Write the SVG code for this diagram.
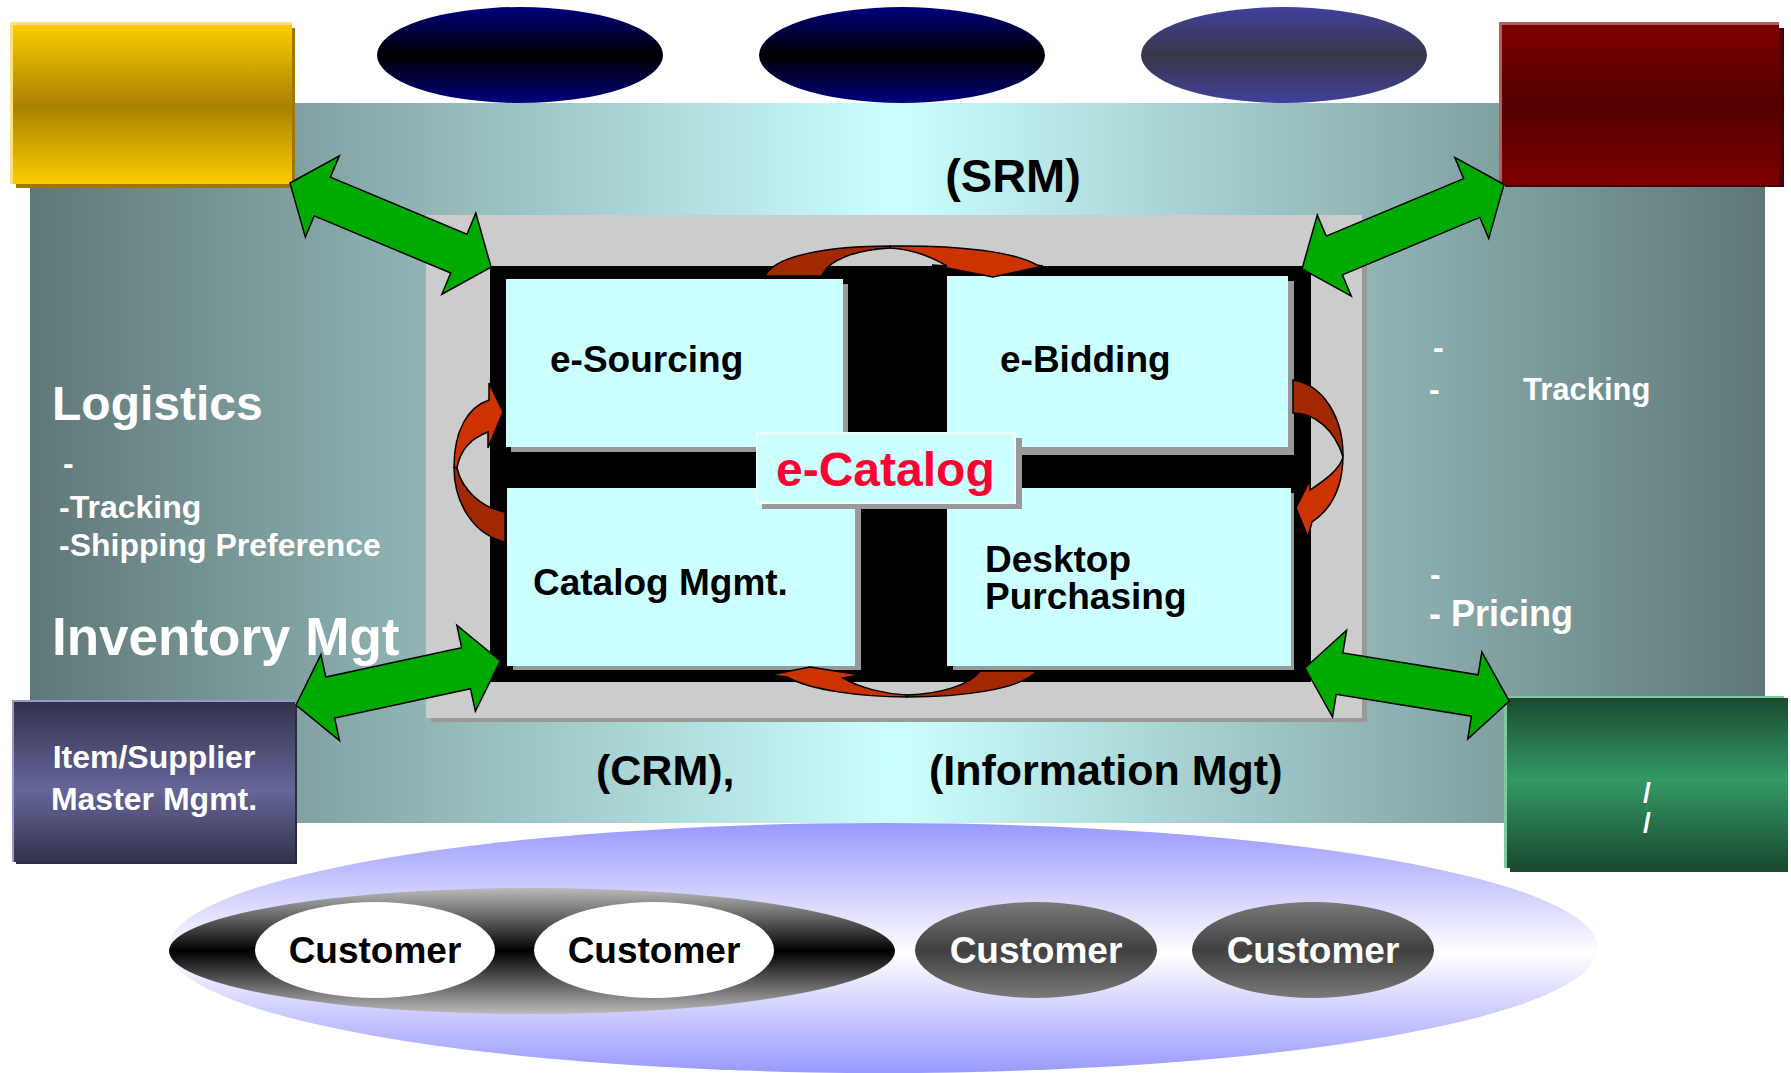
<svg xmlns="http://www.w3.org/2000/svg" width="1791" height="1073" viewBox="0 0 1791 1073">
<defs>
<style>
.t{font-family:"Liberation Sans",Arial,Helvetica,sans-serif;font-weight:bold}
.w{fill:#ffffff}
.k{fill:#000000}
.box{fill:#ccffff}
.sh{fill:#999999}
.garrow{fill:#00aa00;stroke:#000000;stroke-width:1.5;stroke-linejoin:miter}
.rback{fill:#a12800;stroke:#000000;stroke-width:1.5}
.rfront{fill:#cc3300;stroke:#000000;stroke-width:1.5}
</style>
<linearGradient id="frameGrad" gradientUnits="userSpaceOnUse" x1="30" y1="0" x2="1765" y2="0">
<stop offset="0" stop-color="#5f7777"/><stop offset="0.4986" stop-color="#ccffff"/><stop offset="1" stop-color="#5f7777"/>
</linearGradient>
<linearGradient id="yellowGrad" x1="0" y1="0" x2="0" y2="1">
<stop offset="0" stop-color="#fccc00"/><stop offset="0.51" stop-color="#a88200"/><stop offset="1" stop-color="#fccc00"/>
</linearGradient>
<linearGradient id="maroonGrad" x1="0" y1="0" x2="0" y2="1">
<stop offset="0" stop-color="#7e0000"/><stop offset="0.5" stop-color="#540000"/><stop offset="1" stop-color="#7e0000"/>
</linearGradient>
<linearGradient id="navyGrad" x1="0" y1="0" x2="0" y2="1">
<stop offset="0" stop-color="#000080"/><stop offset="0.5" stop-color="#000000"/><stop offset="1" stop-color="#000080"/>
</linearGradient>
<linearGradient id="slateGrad" x1="0" y1="0" x2="0" y2="1">
<stop offset="0" stop-color="#40409c"/><stop offset="0.5" stop-color="#383848"/><stop offset="1" stop-color="#40409c"/>
</linearGradient>
<linearGradient id="itemGrad" x1="0" y1="0" x2="0" y2="1">
<stop offset="0" stop-color="#32324c"/><stop offset="0.55" stop-color="#666699"/><stop offset="1" stop-color="#32324c"/>
</linearGradient>
<linearGradient id="greenGrad" x1="0" y1="0" x2="0" y2="1">
<stop offset="0" stop-color="#1a4a30"/><stop offset="0.48" stop-color="#339966"/><stop offset="1" stop-color="#1a4a30"/>
</linearGradient>
<linearGradient id="lavGrad" x1="0" y1="0" x2="0" y2="1">
<stop offset="0" stop-color="#9999ff"/><stop offset="0.52" stop-color="#ffffff"/><stop offset="1" stop-color="#9999ff"/>
</linearGradient>
<linearGradient id="darkGrad" x1="0" y1="0" x2="0" y2="1">
<stop offset="0" stop-color="#bbbbbb"/><stop offset="0.5" stop-color="#000000"/><stop offset="1" stop-color="#bbbbbb"/>
</linearGradient>
<linearGradient id="custGrad" x1="0" y1="0" x2="0" y2="1">
<stop offset="0" stop-color="#7a7a7a"/><stop offset="0.5" stop-color="#404040"/><stop offset="1" stop-color="#7a7a7a"/>
</linearGradient>
</defs>

<rect x="0" y="0" width="1791" height="1073" fill="#ffffff"/>

<!-- background frame -->
<g id="frame">
<rect x="30" y="103" width="1735" height="720" fill="url(#frameGrad)"/>
</g>

<!-- top ellipses -->
<g id="ellipse1"><ellipse cx="520" cy="55" rx="143" ry="48" fill="url(#navyGrad)"/></g>
<g id="ellipse2"><ellipse cx="902" cy="55" rx="143" ry="48" fill="url(#navyGrad)"/></g>
<g id="ellipse3"><ellipse cx="1284" cy="55" rx="143" ry="48" fill="url(#slateGrad)"/></g>

<!-- corner boxes -->
<g id="yellowBox">
<rect x="16" y="28" width="279" height="160" fill="#a07800"/>
<rect x="10" y="22" width="282" height="162" fill="#ffe080"/>
<rect x="13" y="25" width="279" height="159" fill="url(#yellowGrad)"/>
</g>
<g id="maroonBox">
<rect x="1505" y="28" width="279" height="159" fill="#4a0000"/>
<rect x="1499" y="22" width="280" height="163" fill="#b06060"/>
<rect x="1502" y="25" width="277" height="160" fill="url(#maroonGrad)"/>
</g>

<!-- texts on frame -->
<g id="srmLabel"><text class="t k" x="1013" y="192" font-size="47" text-anchor="middle">(SRM)</text></g>
<g id="logistics">
<text class="t w" x="52" y="420" font-size="48">Logistics</text>
<text class="t w" x="63" y="474" font-size="32">-</text>
<text class="t w" x="59" y="518" font-size="32">-Tracking</text>
<text class="t w" x="59" y="556" font-size="32">-Shipping Preference</text>
</g>
<g id="inventory"><text class="t w" x="52" y="655" font-size="53">Inventory Mgt</text></g>
<g id="rightPanel">
<text class="t w" x="1433" y="358" font-size="32">-</text>
<text class="t w" x="1429" y="400" font-size="32">-</text>
<text class="t w" x="1523" y="400" font-size="31">Tracking</text>
<text class="t w" x="1430" y="585" font-size="32">-</text>
<text class="t w" x="1429" y="626" font-size="36">- Pricing</text>
</g>
<g id="bottomLabels">
<text class="t k" x="596" y="785" font-size="43">(CRM),</text>
<text class="t k" x="929" y="785" font-size="43">(Information Mgt)</text>
</g>

<!-- central panel -->
<g id="centerPanel">
<rect x="431" y="220" width="936" height="502" class="sh"/>
<rect x="426" y="215" width="936" height="503" fill="#cccccc"/>
<rect x="490" y="266" width="821" height="416" fill="#000000"/>
</g>
<g id="eSourcing">
<rect x="511" y="284" width="337" height="168" class="sh"/>
<rect x="506" y="279" width="337" height="168" class="box"/>
<text class="t k" x="550" y="372" font-size="37">e-Sourcing</text>
</g>
<g id="eBidding">
<rect x="953" y="281" width="341" height="174" class="sh"/>
<rect x="947" y="276" width="341" height="171" class="box"/>
<text class="t k" x="1000" y="372" font-size="37">e-Bidding</text>
</g>
<g id="catalogMgmt">
<rect x="513" y="493" width="348" height="177" class="sh"/>
<rect x="507" y="488" width="348" height="178" class="box"/>
<text class="t k" x="533" y="595" font-size="37">Catalog Mgmt.</text>
</g>
<g id="desktopPurchasing">
<rect x="953" y="493" width="341" height="177" class="sh"/>
<rect x="947" y="488" width="344" height="178" class="box"/>
<text class="t k" x="985" y="572" font-size="37">Desktop</text>
<text class="t k" x="985" y="609" font-size="37">Purchasing</text>
</g>
<g id="eCatalog">
<rect x="762" y="438" width="260" height="71" class="sh"/>
<rect x="756" y="432" width="260" height="72" fill="#eeffff"/>
<rect x="758" y="434" width="256" height="68" class="box"/>
<text class="t" x="776" y="486" font-size="48" fill="#ff0033">e-Catalog</text>
</g>

<!-- side boxes -->
<g id="itemSupplier">
<rect x="16" y="705" width="281" height="159" fill="#2a2a40"/>
<rect x="12" y="700" width="283" height="162" fill="#9999cc"/>
<rect x="14" y="702" width="281" height="160" fill="url(#itemGrad)"/>
<text class="t w" x="154" y="768" font-size="32" text-anchor="middle">Item/Supplier</text>
<text class="t w" x="154" y="810" font-size="32" text-anchor="middle">Master Mgmt.</text>
</g>
<g id="greenBox">
<rect x="1510" y="702" width="278" height="170" fill="#1a4a30"/>
<rect x="1504" y="696" width="280" height="172" fill="#80c8a0"/>
<rect x="1507" y="698" width="281" height="170" fill="url(#greenGrad)"/>
<text class="t w" x="1647" y="802" font-size="28" text-anchor="middle">/</text>
<text class="t w" x="1647" y="832" font-size="28" text-anchor="middle">/</text>
</g>

<!-- customers -->
<g id="customerArea">
<ellipse cx="883" cy="948" rx="715" ry="125" fill="url(#lavGrad)"/>
<ellipse cx="532" cy="951" rx="363" ry="63" fill="url(#darkGrad)"/>
</g>
<g id="customer1"><ellipse cx="375" cy="950" rx="120" ry="48" fill="#ffffff"/><text class="t k" x="375" y="963" font-size="37" text-anchor="middle">Customer</text></g>
<g id="customer2"><ellipse cx="654" cy="950" rx="120" ry="48" fill="#ffffff"/><text class="t k" x="654" y="963" font-size="37" text-anchor="middle">Customer</text></g>
<g id="customer3"><ellipse cx="1036" cy="950" rx="121" ry="48" fill="url(#custGrad)"/><text class="t w" x="1036" y="963" font-size="37" text-anchor="middle">Customer</text></g>
<g id="customer4"><ellipse cx="1313" cy="950" rx="121" ry="48" fill="url(#custGrad)"/><text class="t w" x="1313" y="963" font-size="37" text-anchor="middle">Customer</text></g>

<!-- connectors -->
<g id="connectors">
<path class="garrow" transform="translate(290,183) rotate(22.7)" d="M0,0 L35,-44 L35,-21 L183,-21 L183,-44 L218,0 L183,44 L183,21 L35,21 L35,44 Z"/>
<path class="garrow" transform="translate(1302,269) rotate(-22.7)" d="M0,0 L35,-44 L35,-21 L184,-21 L184,-44 L219,0 L184,44 L184,21 L35,21 L35,44 Z"/>
<path class="garrow" transform="translate(296,705) rotate(-12.2)" d="M0,0 L35,-44 L35,-21 L174,-21 L174,-44 L209,0 L174,44 L174,21 L35,21 L35,44 Z"/>
<path class="garrow" transform="translate(1305,668) rotate(9.2)" d="M0,0 L35,-44 L35,-21 L172,-21 L172,-44 L207,0 L172,44 L172,21 L35,21 L35,44 Z"/>

<path class="rback" d="M765,276 C775,255 830,246 890,246 L890,248 C855,250 828,260 822,276 Z"/>
<path class="rfront" d="M890,246 C960,245 1015,252 1037,265 L1043,266 L993,277 L932,265 L947,266 C930,256 910,249 890,248 Z"/>

<path class="rback" d="M907,697 C960,697 1020,690 1037,671 L980,671 C970,685 940,694 907,695 Z"/>
<path class="rfront" d="M907,697 C860,697 810,690 787,677 L770,675 L810,667 L860,675 L843,678 C860,688 885,694 907,695 Z"/>

<path class="rback" d="M454,467 C454,505 475,535 505,542 L505,512 C482,508 462,490 457,468 Z"/>
<path class="rfront" d="M454,467 C454,430 468,407 489,400 L489,383 L503,412 L488,448 L488,432 C472,438 460,450 457,468 Z"/>

<path class="rback" d="M1293,380 C1325,385 1343,420 1343,455 L1343,457 C1335,430 1315,413 1293,413 Z"/>
<path class="rfront" d="M1343,455 C1343,490 1330,510 1312,522 L1308,537 L1296,508 L1310,480 L1310,490 C1322,482 1340,470 1343,457 Z"/>
</g>
</svg>
